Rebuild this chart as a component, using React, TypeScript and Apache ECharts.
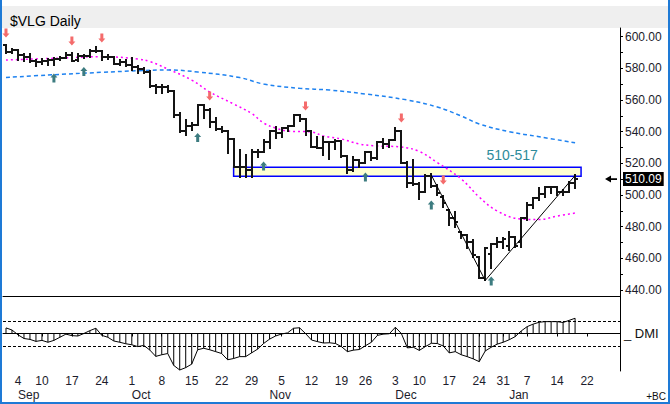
import React, { useEffect, useRef } from "react";
import * as echarts from "echarts";

// Trading sessions (Aug 30 2018 .. Jan 17 2019 carry data; the rest is blank future space)
const sessions: string[] = [
  "2018-08-30", "2018-08-31",
  "2018-09-04", "2018-09-05", "2018-09-06", "2018-09-07", "2018-09-10", "2018-09-11", "2018-09-12", "2018-09-13", "2018-09-14",
  "2018-09-17", "2018-09-18", "2018-09-19", "2018-09-20", "2018-09-21", "2018-09-24", "2018-09-25", "2018-09-26", "2018-09-27", "2018-09-28",
  "2018-10-01", "2018-10-02", "2018-10-03", "2018-10-04", "2018-10-05", "2018-10-08", "2018-10-09", "2018-10-10", "2018-10-11", "2018-10-12",
  "2018-10-15", "2018-10-16", "2018-10-17", "2018-10-18", "2018-10-19", "2018-10-22", "2018-10-23", "2018-10-24", "2018-10-25", "2018-10-26",
  "2018-10-29", "2018-10-30", "2018-10-31",
  "2018-11-01", "2018-11-02", "2018-11-05", "2018-11-06", "2018-11-07", "2018-11-08", "2018-11-09", "2018-11-12", "2018-11-13", "2018-11-14",
  "2018-11-15", "2018-11-16", "2018-11-19", "2018-11-20", "2018-11-21", "2018-11-23", "2018-11-26", "2018-11-27", "2018-11-28", "2018-11-29", "2018-11-30",
  "2018-12-03", "2018-12-04", "2018-12-06", "2018-12-07", "2018-12-10", "2018-12-11", "2018-12-12", "2018-12-13", "2018-12-14",
  "2018-12-17", "2018-12-18", "2018-12-19", "2018-12-20", "2018-12-21", "2018-12-24", "2018-12-26", "2018-12-27", "2018-12-28", "2018-12-31",
  "2019-01-02", "2019-01-03", "2019-01-04", "2019-01-07", "2019-01-08", "2019-01-09", "2019-01-10", "2019-01-11",
  "2019-01-14", "2019-01-15", "2019-01-16", "2019-01-17",
  "2019-01-18", "2019-01-22", "2019-01-23", "2019-01-24", "2019-01-25", "2019-01-28", "2019-01-29",
];

const opens: number[] = [
  594.5, 590.5, 591.8, 588.6, 587.0, 584.5, 583.8, 584.5, 585.1, 585.9,
  586.5, 588.6, 585.0, 587.6, 587.6, 591.2, 590.8, 587.0, 587.0, 582.8,
  583.8, 582.3, 580.9, 579.5, 578.0, 569.0, 568.5, 568.5, 565.5, 550.5,
  540.5, 543.6, 544.2, 556.9, 553.7, 546.3, 541.5, 540.5, 535.2, 517.9,
  517.7, 516.0, 527.0, 527.4, 533.7, 540.4, 539.0, 542.1, 543.8, 550.5,
  548.0, 540.4, 530.5, 530.0, 533.7, 533.7, 534.0, 524.8, 515.8, 522.1,
  520.0, 527.0, 523.2, 533.7, 532.0, 534.7, 540.4, 520.2, 507.4, 507.0,
  502.1, 512.0, 505.5, 499.0, 490.6, 485.3, 476.8, 474.8, 470.5, 461.1,
  447.5, 463.0, 469.0, 470.5, 468.0, 473.7, 470.0, 485.3, 493.7, 497.9,
  500.6, 504.8, 504.8, 502.0, 502.0, 507.8,
];
const highs: number[] = [
  595.0, 592.4, 591.8, 589.1, 589.1, 585.5, 586.1, 586.1, 586.5, 587.0,
  589.7, 589.7, 589.1, 588.2, 591.4, 593.3, 590.8, 588.6, 587.0, 585.5,
  585.5, 586.5, 581.3, 580.0, 578.5, 569.5, 569.5, 568.9, 565.5, 551.6,
  547.4, 545.3, 556.9, 556.9, 554.1, 548.4, 543.1, 540.5, 535.2, 528.4,
  525.3, 528.4, 528.4, 534.5, 540.4, 543.1, 542.1, 543.8, 550.5, 550.5,
  548.0, 540.4, 536.8, 536.8, 533.7, 534.7, 534.0, 524.8, 524.2, 522.1,
  527.0, 527.0, 533.7, 535.4, 534.7, 542.1, 540.4, 521.0, 522.0, 507.4,
  512.6, 513.3, 506.4, 499.5, 490.6, 489.5, 476.8, 474.8, 471.6, 461.1,
  466.5, 469.0, 472.6, 472.6, 476.8, 473.7, 485.3, 494.7, 497.9, 504.2,
  504.8, 505.3, 505.3, 503.2, 508.4, 512.6,
];
const lows: number[] = [
  590.0, 589.7, 585.5, 584.5, 584.0, 581.3, 582.8, 581.9, 581.9, 585.5,
  586.5, 584.8, 584.8, 586.5, 587.0, 590.3, 585.5, 586.1, 582.8, 582.3,
  581.7, 579.2, 577.1, 577.3, 568.5, 564.4, 564.4, 565.3, 549.5, 540.0,
  537.9, 541.1, 544.2, 548.4, 543.1, 541.1, 540.0, 526.3, 517.9, 511.6,
  511.6, 511.2, 524.2, 527.4, 529.5, 535.8, 536.8, 540.4, 543.8, 546.7,
  537.9, 530.5, 529.5, 525.3, 522.7, 529.0, 524.2, 513.7, 515.2, 517.9,
  520.0, 522.1, 522.7, 529.5, 530.5, 534.7, 520.2, 505.3, 506.4, 497.3,
  502.1, 505.3, 500.0, 492.6, 481.1, 480.0, 472.6, 466.3, 461.1, 447.4,
  446.0, 453.7, 467.3, 466.3, 465.3, 467.4, 467.4, 484.2, 491.6, 496.8,
  498.9, 501.0, 500.3, 500.0, 502.0, 504.2,
];
const closes: number[] = [
  590.5, 591.8, 588.6, 587.0, 584.5, 583.8, 584.5, 585.1, 585.9, 586.5,
  588.6, 584.8, 587.6, 587.6, 591.2, 590.8, 587.0, 587.0, 582.8, 583.8,
  582.3, 580.9, 579.5, 578.0, 569.0, 568.5, 568.5, 565.5, 550.5, 540.5,
  543.6, 544.2, 556.9, 553.7, 546.3, 541.5, 540.5, 535.2, 517.9, 517.7,
  516.0, 527.0, 527.4, 533.7, 540.4, 539.0, 542.1, 543.8, 550.5, 548.0,
  540.4, 530.5, 530.0, 533.7, 533.7, 534.0, 524.8, 515.8, 522.1, 520.0,
  527.0, 523.2, 533.7, 532.0, 534.7, 540.4, 520.2, 507.4, 507.0, 502.1,
  512.0, 505.5, 501.0, 494.7, 485.3, 483.1, 474.8, 470.5, 462.1, 447.5,
  466.3, 469.0, 470.5, 472.0, 473.7, 467.8, 485.3, 493.7, 497.9, 500.6,
  504.8, 504.8, 502.0, 502.0, 507.8, 510.09,
];

// Moving averages, read at intervals: [session index, value]
const maShort: [number, number][] = [
  [0, 585.3], [9, 586.5], [16, 587.4], [22, 585.9], [24, 584.3], [27, 579.6], [31, 572.6], [34, 565.1],
  [38, 557.5], [41, 551.5], [43, 545.5], [45, 542.3], [47, 540.4], [51, 539.8], [53, 537.3], [56, 535.4],
  [59, 532.2], [62, 531.0], [66, 530.3], [69, 527.5], [72, 520.5], [76, 510.1], [79, 498.7], [82, 489.9],
  [86, 484.8], [89, 484.5], [92, 486.7], [95, 488.6],
];
const maLong: [number, number][] = [
  [0, 574.2], [7, 575.8], [16, 577.5], [22, 578.5], [27, 579.0], [32, 577.7], [39, 574.2], [43, 570.1],
  [49, 567.4], [54, 566.3], [60, 563.8], [67, 560.0], [72, 555.6], [76, 549.9], [79, 544.9], [84, 540.0],
  [89, 536.8], [95, 533.0],
];

const dmi: number[] = [
  4.5, 2.8, -1, -4, -4.7, -6.3, -5.5, -7, -5.5, -3,
  -0.5, -1.7, -2, 0, 2.3, 4.2, -1.5, -3, -6, -7,
  -8.2, -9, -10.5, -9.5, -13.2, -18.3, -17, -16, -25.5, -29.2,
  -27.3, -24.5, -13, -11.8, -13, -14.5, -16, -21, -20, -18.5,
  -18.5, -15.5, -12.5, -8, -4.5, -2, -0.4, 0.5, 4.2, 4.6,
  0, -5.2, -6.5, -7.6, -7.4, -8, -10.5, -14.5, -13.3, -12.8,
  -9.8, -7, -1.5, -0.5, -0.2, 5, 0, -11.5, -11, -13.5,
  -10.5, -7.8, -8, -10, -15.5, -14.5, -17, -18.5, -20.3, -22.5,
  -14, -11, -8.5, -7, -5, -2.5, 2, 5.5, 7.5, 9,
  9.5, 9.5, 9.5, 8.8, 10.5, 12.2,
];

const sellSignals: [number, number][] = [[0, 602.3], [11, 597.3], [16, 599.2], [34, 562.5], [50, 556.2], [66, 548.6], [73, 509.5]];
const buySignals: [number, number][] = [[8, 573.9], [13, 578.0], [32, 536.3], [43, 518.3], [60, 511.4], [71, 493.7], [81, 445.7]];

const fallingTrend: [number, number][] = [[71, 512.6], [80, 446.0]];
const risingTrend: [number, number][] = [[80, 446.0], [95, 512.3]];
const zoneLow = 511.8;
const zoneHigh = 517.5;
const zoneStart = 38;
const zoneEnd = 96;
const zoneLabel = "510-517";
const lastPrice = 510.09;

const priceLabels = [440, 460, 480, 500, 520, 540, 560, 580, 600];
const priceTicks = [440, 450, 460, 470, 480, 490, 500, 510, 520, 530, 540, 550, 560, 570, 580, 590, 600];
const weekLabels = [
  "2018-09-04", "2018-09-10", "2018-09-17", "2018-09-24", "2018-10-01", "2018-10-08", "2018-10-15", "2018-10-22",
  "2018-10-29", "2018-11-05", "2018-11-12", "2018-11-19", "2018-11-26", "2018-12-03", "2018-12-10", "2018-12-17",
  "2018-12-24", "2018-12-31", "2019-01-07", "2019-01-14", "2019-01-22",
];
const monthLabels = ["2018-09-04", "2018-10-01", "2018-11-01", "2018-12-03", "2019-01-02"];
const monthNames = ["Jan", "Feb", "Mar", "Apr", "May", "Jun", "Jul", "Aug", "Sep", "Oct", "Nov", "Dec"];

const FONT = '"Liberation Sans", Arial, sans-serif';
const DOWN_ARROW = "path://M2,0 L5,0 L5,5 L7,5 L3.5,9 L0,5 L2,5 Z";
const UP_ARROW = "path://M3.5,0 L7,4 L5,4 L5,9 L2,9 L2,4 L0,4 Z";
const LEFT_ARROW = "path://M0,4 L6,0 L6,3 L12,3 L12,5 L6,5 L6,8 Z";

export default function App() {
  const ref = useRef<HTMLDivElement>(null);

  useEffect(() => {
    if (!ref.current) return;
    const chart = echarts.init(ref.current, null, { renderer: "svg" });
    const weekSet = new Set(weekLabels);
    const monthSet = new Set(monthLabels);
    const ohlc = closes.map((c, i) => [i, opens[i], highs[i], lows[i], c]);

    const option: any = {
      animation: false,
      backgroundColor: "#ffffff",
      textStyle: { fontFamily: FONT },
      title: {
        text: "$VLG Daily",
        left: 5,
        top: 9,
        textStyle: { fontSize: 14, fontWeight: "normal", color: "#000", fontFamily: FONT },
      },
      graphic: [
        { type: "rect", z: -10, shape: { x: 0, y: 6, width: 670, height: 22 }, style: { fill: "#efefef" } },
        { type: "text", right: 4, bottom: 3, style: { text: "+BC", fontSize: 10, fill: "#111", fontFamily: FONT } },
      ],
      grid: [
        { left: 3, top: 28, width: 617, height: 268 },
        { left: 3, top: 296, width: 617, height: 75 },
      ],
      xAxis: [
        {
          type: "category", gridIndex: 0, data: sessions, boundaryGap: true,
          axisLine: { show: true, lineStyle: { color: "#000", width: 1 } },
          axisTick: { show: false }, axisLabel: { show: false }, splitLine: { show: false },
        },
        {
          type: "category", gridIndex: 1, data: sessions, boundaryGap: true, position: "bottom",
          axisLine: { show: true, lineStyle: { color: "#000", width: 1 } },
          axisTick: {
            show: true, alignWithLabel: true, length: 3, lineStyle: { color: "#000" },
            interval: (_i: number, v: string) => weekSet.has(v),
          },
          axisLabel: {
            interval: (_i: number, v: string) => weekSet.has(v),
            formatter: (v: string) => String(parseInt(v.slice(8), 10)),
            fontSize: 12, color: "#1c1c2c", margin: 4, fontFamily: FONT,
          },
          splitLine: { show: false },
        },
        {
          type: "category", gridIndex: 1, data: sessions, boundaryGap: true, position: "bottom", offset: 14,
          axisLine: { show: false }, axisTick: { show: false },
          axisLabel: {
            interval: (_i: number, v: string) => monthSet.has(v),
            formatter: (v: string) => monthNames[parseInt(v.slice(5, 7), 10) - 1],
            align: "left", fontSize: 12, color: "#1c1c2c", margin: 4, fontFamily: FONT,
          },
          splitLine: { show: false },
        },
      ],
      yAxis: [
        {
          type: "value", gridIndex: 0, position: "right", min: 436.2, max: 605.5, scale: true,
          axisLine: { show: true, lineStyle: { color: "#000", width: 1 } },
          axisTick: { show: true, length: 3, customValues: priceTicks, lineStyle: { color: "#000" } },
          axisLabel: {
            customValues: priceLabels, formatter: (v: number) => v.toFixed(2),
            fontSize: 12, color: "#1c1c2c", margin: 5, fontFamily: FONT,
          },
          splitLine: { show: false },
        },
        {
          type: "value", gridIndex: 0, position: "right", min: 436.2, max: 605.5, scale: true,
          axisLine: { show: false }, axisTick: { show: false },
          axisLabel: {
            customValues: [lastPrice], formatter: (v: number) => v.toFixed(2),
            fontSize: 12, color: "#fff", backgroundColor: "#000", padding: [1, 2, 1, 2], margin: 3, fontFamily: FONT,
          },
          splitLine: { show: false },
        },
        {
          type: "value", gridIndex: 1, position: "right", min: -30, max: 30,
          axisLine: { show: true, lineStyle: { color: "#000", width: 1 } },
          axisTick: { show: false }, axisLabel: { show: false }, splitLine: { show: false },
          name: "_ DMI", nameLocation: "middle", nameGap: 4, nameRotate: 0,
          nameTextStyle: { align: "left", verticalAlign: "middle", fontSize: 13, color: "#111", fontFamily: FONT },
        },
      ],
      series: [
        {
          name: "MA short", type: "line", xAxisIndex: 0, yAxisIndex: 0, z: 2,
          data: maShort, symbol: "none", smooth: 0.4,
          lineStyle: { color: "#ff00ff", width: 1.5, type: [2, 3] },
          markArea: {
            silent: true,
            itemStyle: { color: "#ffffd2", borderColor: "#0000ff", borderWidth: 1.5 },
            data: [[{ coord: [zoneStart, zoneHigh] }, { coord: [zoneEnd, zoneLow] }]],
          },
          markPoint: {
            silent: true,
            symbol: "circle", symbolSize: 1, itemStyle: { color: "rgba(0,0,0,0)" },
            label: { show: true, position: "inside", formatter: zoneLabel, color: "#2e8b9a", fontSize: 14, fontFamily: FONT, offset: [-3, 0] },
            data: [{ coord: [85, 525.3] }],
          },
        },
        {
          name: "MA long", type: "line", xAxisIndex: 0, yAxisIndex: 0, z: 2,
          data: maLong, symbol: "none", smooth: 0.4,
          lineStyle: { color: "#1e82f0", width: 1.5, type: [4, 3] },
        },
        {
          name: "Price", type: "custom", xAxisIndex: 0, yAxisIndex: 0, z: 5,
          data: ohlc, encode: { x: 0, y: [1, 2, 3, 4] },
          renderItem: (_params: any, api: any) => {
            const i = api.value(0);
            const pO = api.coord([i, api.value(1)]);
            const pH = api.coord([i, api.value(2)]);
            const pL = api.coord([i, api.value(3)]);
            const pC = api.coord([i, api.value(4)]);
            const half = api.size([1, 0])[0] / 2;
            const x = Math.round(pH[0]);
            const style = { stroke: "#141414", lineWidth: 2 };
            const yo = Math.round(pO[1]);
            const yc = Math.round(pC[1]);
            return {
              type: "group",
              children: [
                { type: "line", shape: { x1: x, y1: Math.round(pH[1]) - 1, x2: x, y2: Math.round(pL[1]) + 1 }, style },
                { type: "line", shape: { x1: x - half, y1: yo, x2: x, y2: yo }, style },
                { type: "line", shape: { x1: x, y1: yc, x2: x + half, y2: yc }, style },
              ],
            };
          },
        },
        {
          name: "Trend down", type: "line", xAxisIndex: 0, yAxisIndex: 0, z: 6,
          data: fallingTrend, symbol: "none", lineStyle: { color: "#000", width: 1 },
        },
        {
          name: "Trend up", type: "line", xAxisIndex: 0, yAxisIndex: 0, z: 6,
          data: risingTrend, symbol: "none", lineStyle: { color: "#000", width: 1 },
        },
        {
          name: "Sell", type: "scatter", xAxisIndex: 0, yAxisIndex: 0, z: 7,
          data: sellSignals, symbol: DOWN_ARROW, symbolSize: [7, 9],
          itemStyle: { color: "#f46b6b", opacity: 1 },
        },
        {
          name: "Buy", type: "scatter", xAxisIndex: 0, yAxisIndex: 0, z: 7,
          data: buySignals, symbol: UP_ARROW, symbolSize: [7, 9],
          itemStyle: { color: "#3d7c80", opacity: 1 },
        },
        {
          name: "Last", type: "scatter", xAxisIndex: 0, yAxisIndex: 0, z: 7,
          data: [[101, lastPrice]], symbol: LEFT_ARROW, symbolSize: [12, 7],
          itemStyle: { color: "#000", opacity: 1 },
        },
        {
          name: "DMI bars", type: "bar", xAxisIndex: 1, yAxisIndex: 2,
          data: dmi, barWidth: 1, itemStyle: { color: "#000" },
        },
        {
          name: "DMI", type: "line", xAxisIndex: 1, yAxisIndex: 2,
          data: dmi, symbol: "none", lineStyle: { color: "#000", width: 1 },
          markLine: {
            silent: true, symbol: "none", label: { show: false },
            lineStyle: { color: "#000", width: 1, type: "solid" },
            data: [
              { yAxis: 0 },
              { yAxis: 10, lineStyle: { type: [3, 2] } },
              { yAxis: -10, lineStyle: { type: [3, 2] } },
            ],
          },
        },
      ],
    };

    chart.setOption(option);
    return () => chart.dispose();
  }, []);

  return (
    <div style={{ position: "fixed", left: 0, top: 0, width: 670, height: 404, background: "#fff" }}>
      <div ref={ref} style={{ position: "absolute", left: 0, top: 0, width: 670, height: 404 }} />
      <div
        style={{
          position: "absolute", left: 0, top: 0, width: 670, height: 404, boxSizing: "border-box",
          borderLeft: "2px solid #1e7ad6", borderRight: "2px solid #1e7ad6", borderBottom: "2px solid #1e7ad6",
          pointerEvents: "none",
        }}
      />
    </div>
  );
}
